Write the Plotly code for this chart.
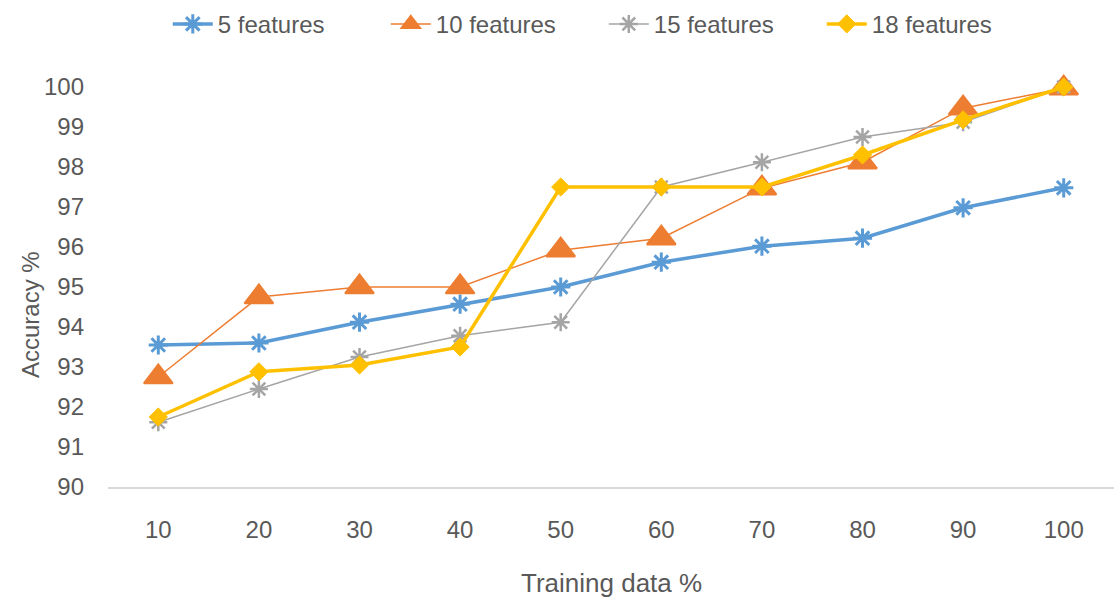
import plotly.graph_objects as go

# Training data share (%) on the x axis
training_pct = [10, 20, 30, 40, 50, 60, 70, 80, 90, 100]

# Accuracy (%) per feature-set size
acc_5 = [93.55, 93.6, 94.12, 94.57, 95.0, 95.62, 96.02, 96.22, 96.98, 97.48]
acc_10 = [92.75, 94.75, 95.0, 95.0, 95.92, 96.22, 97.47, 98.12, 99.47, 99.97]
acc_15 = [91.62, 92.45, 93.25, 93.78, 94.12, 97.5, 98.12, 98.75, 99.12, 100.0]
acc_18 = [91.75, 92.88, 93.05, 93.5, 97.5, 97.5, 97.5, 98.3, 99.18, 100.0]

y_ticks = [90, 91, 92, 93, 94, 95, 96, 97, 98, 99, 100]

FONT = "Liberation Sans, Arial, sans-serif"
TEXT_GREY = "#595959"

fig = go.Figure()

fig.add_trace(go.Scatter(
    x=training_pct, y=acc_5, name="5 features", mode="lines+markers",
    line=dict(color="#5B9BD5", width=3.5),
    marker=dict(symbol="asterisk-open", size=16, color="#5B9BD5",
                line=dict(color="#5B9BD5", width=3)),
    cliponaxis=False,
))
fig.add_trace(go.Scatter(
    x=training_pct, y=acc_10, name="10 features", mode="lines+markers",
    line=dict(color="#ED7D31", width=1.5),
    marker=dict(symbol="triangle-up", size=25, color="#ED7D31",
                line=dict(color="#ED7D31", width=2)),
    cliponaxis=False,
))
fig.add_trace(go.Scatter(
    x=training_pct, y=acc_15, name="15 features", mode="lines+markers",
    line=dict(color="#A5A5A5", width=1.5),
    marker=dict(symbol="asterisk-open", size=15, color="#A5A5A5",
                line=dict(color="#A5A5A5", width=2.5)),
    cliponaxis=False,
))
fig.add_trace(go.Scatter(
    x=training_pct, y=acc_18, name="18 features", mode="lines+markers",
    line=dict(color="#FFC000", width=3.5),
    marker=dict(symbol="diamond", size=14, color="#FFC000",
                line=dict(color="#FFC000", width=1)),
    cliponaxis=False,
))

fig.update_layout(
    width=1114, height=607,
    margin=dict(l=108, r=0, t=87, b=120),
    paper_bgcolor="white", plot_bgcolor="white",
    font=dict(family=FONT, size=24, color=TEXT_GREY),
    showlegend=True,
    legend=dict(
        orientation="h", xref="container", yref="container",
        x=0.542, xanchor="center", y=0.96, yanchor="middle",
        font=dict(family=FONT, size=24, color=TEXT_GREY),
        itemwidth=40, traceorder="normal", entrywidth=163,
    ),
    xaxis=dict(
        range=[5, 105], tickmode="array", tickvals=training_pct,
        ticktext=[str(v) for v in training_pct],
        showgrid=False, zeroline=False, showline=True,
        linecolor="#D9D9D9", linewidth=2, ticks="",
        ticklabelstandoff=20,
        tickfont=dict(family=FONT, size=24, color=TEXT_GREY),
    ),
    yaxis=dict(
        range=[90, 100], tickmode="array", tickvals=y_ticks,
        ticktext=[str(v) for v in y_ticks],
        showgrid=False, zeroline=False, showline=False, ticks="",
        ticklabelstandoff=23,
        tickfont=dict(family=FONT, size=24, color=TEXT_GREY),
    ),
    annotations=[
        dict(text="Training data %", xref="paper", yref="paper",
             x=0.5, y=-0.24, xanchor="center", yanchor="middle",
             showarrow=False,
             font=dict(family=FONT, size=26, color=TEXT_GREY)),
        dict(text="Accuracy %", xref="paper", yref="paper",
             x=-0.0775, y=0.43, xanchor="center", yanchor="middle",
             textangle=-90, showarrow=False,
             font=dict(family=FONT, size=24, color=TEXT_GREY)),
    ],
)

fig.write_html("out.html")
